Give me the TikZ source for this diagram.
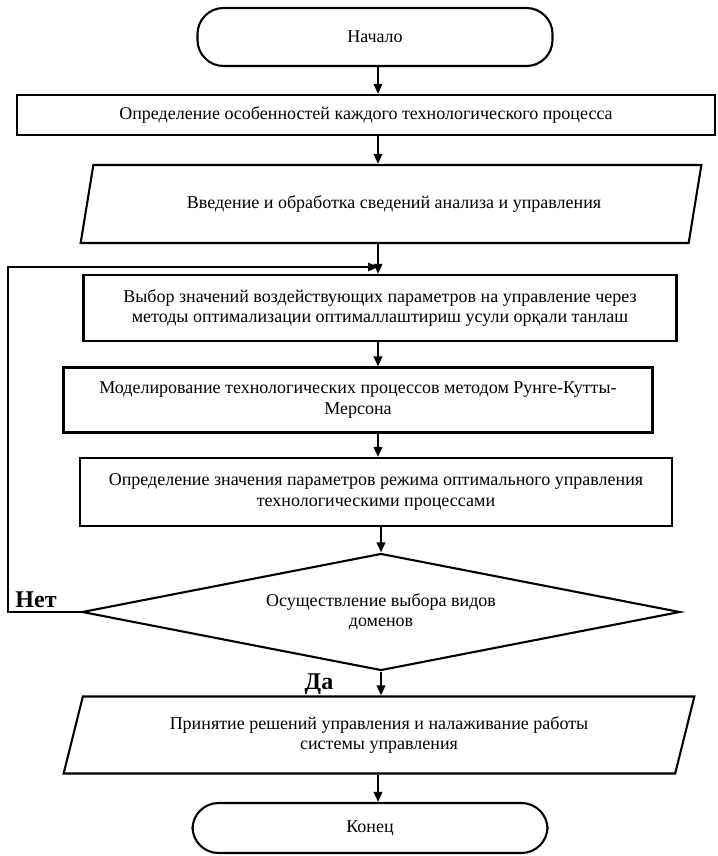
\documentclass[tikz,border=0pt]{standalone}
\usepackage{fontspec}
\setmainfont{Liberation Serif}
\usetikzlibrary{shapes.geometric,arrows.meta}
\begin{document}
\begin{tikzpicture}[x=1pt,y=-1pt,
  every node/.style={font=\fontsize{18}{20.5}\selectfont},
  base/.style={draw, line width=2.1pt, inner sep=0pt, align=center},
  term/.style={base, rectangle, rounded corners=26pt},
  proc/.style={base, rectangle},
  io/.style={base, trapezium, trapezium stretches=true},
  decis/.style={base, diamond},
  lbl/.style={font=\fontsize{24}{26}\selectfont\bfseries},
  arr/.style={line width=2pt, -{Triangle[length=10pt,width=8.5pt]}}
]
\useasboundingbox (0,0) rectangle (717,856);
\fill[white] (0,0) rectangle (717,856);

\coordinate (axis) at (378,0);

\node[term, minimum width=355pt, minimum height=58pt] (start) at (375,37) {Начало};
\node[proc, minimum width=698pt, minimum height=40pt] (b1) at (366,115)
  {Определение особенностей каждого технологического процесса};
\node[io, trapezium left angle=62, trapezium right angle=118,
      minimum width=623pt, minimum height=78pt] (io1) at (391,204)
  {\raisebox{4pt}{\hspace*{6pt}Введение и обработка сведений анализа и управления}};
\node[proc, minimum width=593pt, minimum height=66pt] (b2) at (380,308)
  {Выбор значений воздействующих параметров на управление через\\
   методы оптимализации оптималлаштириш усули орқали танлаш};
\node[proc, minimum width=589pt, minimum height=65pt] (b3) at (358,400)
  {Моделирование технологических процессов методом Рунге-Кутты-\\Мерсона};
\node[proc, minimum width=592pt, minimum height=68pt] (b4) at (376,492)
  {Определение значения параметров режима оптимального управления\\
   технологическими процессами};
\node[decis, minimum width=598pt, minimum height=117pt] (dec) at (381,612) {};
\node[align=center] (dect) at (dec.center)
  {Осуществление выбора видов\\доменов};
\node[io, trapezium left angle=70, trapezium right angle=110,
      minimum width=631pt, minimum height=77pt] (io2) at (379,735)
  {Принятие решений управления и налаживание работы\\системы управления};
\node[term, minimum width=355pt, minimum height=50pt] (end) at (370,828) {Конец};

\node[lbl] (net) at (36,600) {Нет};
\node[lbl] (da) at (319,684) {Да};

\coordinate (loopc) at (8,267);
\coordinate (join) at (378,267);

\draw[arr] (start.south -| axis) -- (b1.north -| axis);
\draw[arr] (b1.south -| axis) -- (io1.north -| axis);
\draw[arr] (io1.south -| axis) -- (b2.north -| axis);
\draw[arr] (b2.south -| axis) -- (b3.north -| axis);
\draw[arr] (b3.south -| axis) -- (b4.north -| axis);
\draw[arr] (b4.south -| dec.north) -- (dec.north);
\draw[arr] (dec.south) -- (io2.north -| dec.south);
\draw[arr] (io2.south -| axis) -- (end.north -| axis);
\draw[arr] (dec.west) -| (loopc) -- (join);
\end{tikzpicture}
\end{document}
